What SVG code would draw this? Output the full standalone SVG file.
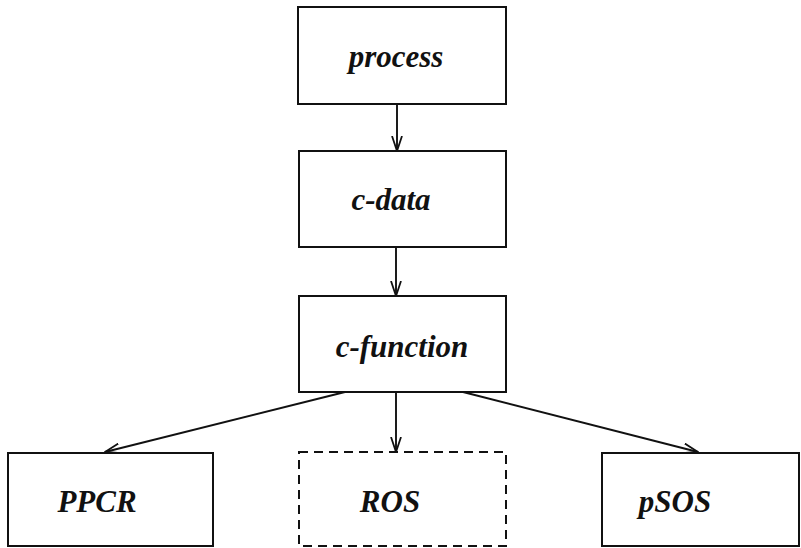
<svg xmlns="http://www.w3.org/2000/svg" width="801" height="548" viewBox="0 0 801 548">
<style>
.box{fill:#fff;stroke:#111;stroke-width:2}
.dash{stroke-dasharray:9 6}
.lbl{font-family:"Liberation Serif","DejaVu Serif",serif;font-style:italic;font-weight:bold;font-size:31px;fill:#111;text-anchor:middle}
.con{stroke:#111;stroke-width:1.9;fill:none;marker-end:url(#ah)}
</style>
<defs>
<marker id="ah" viewBox="0 0 16 12" refX="15" refY="6" markerWidth="16" markerHeight="12" markerUnits="userSpaceOnUse" orient="auto">
<polyline points="0,1 15,6 0,11" fill="none" stroke="#111" stroke-width="1.8"/>
</marker>
</defs>
<rect width="801" height="548" fill="#fff"/>
<g id="connectors">
<line class="con" x1="397" y1="104" x2="397" y2="151"/>
<line class="con" x1="396" y1="247" x2="396" y2="296"/>
<line class="con" x1="345" y1="392" x2="105" y2="452"/>
<line class="con" x1="396" y1="392" x2="396" y2="452"/>
<line class="con" x1="463" y1="392" x2="698" y2="452"/>
</g>
<g id="process"><rect class="box" x="298" y="7" width="208" height="97"/><text class="lbl" x="396" y="67">process</text></g>
<g id="c-data"><rect class="box" x="299" y="151" width="207" height="96"/><text class="lbl" x="391" y="210">c-data</text></g>
<g id="c-function"><rect class="box" x="299" y="296" width="207" height="96"/><text class="lbl" x="402" y="357">c-function</text></g>
<g id="PPCR"><rect class="box" x="8" y="453" width="205" height="93"/><text class="lbl" x="97" y="512">PPCR</text></g>
<g id="ROS"><rect class="box dash" x="299" y="452" width="207" height="94"/><text class="lbl" x="390" y="512">ROS</text></g>
<g id="pSOS"><rect class="box" x="602" y="453" width="197" height="93"/><text class="lbl" x="675" y="512">pSOS</text></g>
</svg>
